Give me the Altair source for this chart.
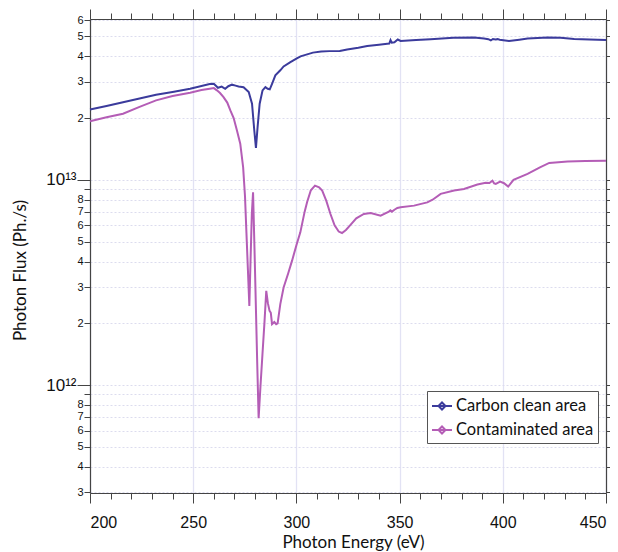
import altair as alt
import pandas as pd

# ---- data (flux in units of 1e13 Ph./s) ----
clean_energy = [200, 208, 216, 224, 232, 240, 248.5, 255, 258, 260, 262, 263.8, 265.5, 267, 268.8,
                270.5, 272, 274.4, 276.9, 278.5, 279.6, 280.4, 281.2, 282.2, 283.6, 285, 286.1,
                287.1, 288.2, 289.8, 292.2, 293.8, 297.1, 300, 302, 305.2, 308, 312, 316, 321,
                324.6, 330, 334.3, 340, 344, 345, 345.6, 346.2, 347.5, 349.1, 350.5, 358, 365,
                376, 386, 390.9, 393, 394.2, 395.2, 396.5, 397.5, 398.5, 403, 408, 412, 421.7,
                428, 434.6, 442, 450]
clean_flux = [2.20, 2.29, 2.39, 2.49, 2.60, 2.68, 2.78, 2.88, 2.93, 2.94, 2.81, 2.85, 2.78, 2.86, 2.91,
              2.88, 2.85, 2.83, 2.68, 2.35, 1.74, 1.43, 1.81, 2.35, 2.73, 2.83, 2.78,
              2.76, 2.94, 3.23, 3.42, 3.57, 3.75, 3.90, 4.00, 4.09, 4.17, 4.22, 4.24, 4.25,
              4.32, 4.40, 4.49, 4.56, 4.61, 4.62, 4.80, 4.66, 4.68, 4.83, 4.75, 4.80, 4.84,
              4.93, 4.94, 4.88, 4.85, 4.78, 4.86, 4.83, 4.85, 4.82, 4.75, 4.82, 4.88, 4.94,
              4.92, 4.86, 4.83, 4.80]

cont_energy = [200, 208, 216, 224, 232, 240, 248.5, 254, 258, 260, 261.5, 263, 264.7, 266.5, 268,
               269.6, 271.2, 272.8, 274.2, 275.1, 275.8, 276.5, 277.2, 277.8, 278.4, 279,
               279.7, 280.35, 281.0, 281.7, 282.6, 283.55, 284.5, 285.4, 286.2, 287, 287.6,
               288.2, 289.3, 290.2, 290.9, 292.2, 293.8, 296, 297.9, 300, 301.9, 304, 305.2,
               307, 309, 311, 312.5, 314.5, 316.5, 318.5, 320.5, 322.1, 324, 326, 329, 332.7,
               336, 340.8, 344.8, 345.5, 346.3, 347.5, 348.9, 350.5, 357, 363.4, 366, 369.9,
               376.4, 381.2, 387.7, 391.7, 393.5, 395.0, 395.8, 396.6, 398.7, 400.6, 402.6,
               405.2, 412, 418, 422.5, 431.4, 440, 450]
cont_flux = [1.93, 2.02, 2.10, 2.27, 2.44, 2.56, 2.66, 2.74, 2.78, 2.80, 2.73, 2.65, 2.53, 2.38, 2.18,
             2.00, 1.74, 1.50, 1.15, 0.83, 0.55, 0.366, 0.243, 0.41, 0.68, 0.87,
             0.46, 0.245, 0.13, 0.069, 0.099, 0.141, 0.20, 0.288, 0.25, 0.230, 0.225,
             0.198, 0.203, 0.198, 0.20, 0.248, 0.299, 0.35, 0.404, 0.48, 0.555, 0.70, 0.78,
             0.89, 0.938, 0.92, 0.887, 0.79, 0.682, 0.60, 0.56, 0.551, 0.57, 0.60, 0.65, 0.682,
             0.69, 0.669, 0.70, 0.71, 0.70, 0.715, 0.730, 0.735, 0.749, 0.777, 0.80, 0.855,
             0.887, 0.903, 0.949, 0.967, 0.965, 0.99, 0.962, 0.956, 0.98, 0.963, 0.928,
             1.0, 1.07, 1.15, 1.21, 1.23, 1.235, 1.24]

series_names = ["Carbon clean area", "Contaminated area"]
series_colors = ["#3b3b9c", "#b45db6"]

x_ticks = list(range(200, 451, 10))
y_ticks = ([m * 10**11 for m in range(3, 10)] + [m * 10**12 for m in range(1, 10)]
           + [m * 10**13 for m in range(1, 7)])

rows = []
for e, f in zip(clean_energy, clean_flux):
    rows.append({"energy": e, "flux": f * 1e13, "series": series_names[0]})
for e, f in zip(cont_energy, cont_flux):
    rows.append({"energy": e, "flux": f * 1e13, "series": series_names[1]})
df = pd.DataFrame(rows)

major_x = "datum.value % 50 == 0"
pow10 = "datum.value == 1e12 || datum.value == 1e13"
mant = "round(datum.value / pow(10, floor(log(datum.value) / LN10 + 1e-9)))"
y_label_expr = (f"datum.value == 1e13 ? '10\u00b9\u00b3' : datum.value == 1e12 ? '10\u00b9\u00b2' : "
                f"({mant} == 9 ? '' : '' + {mant})")

axis_col = "#444444"
x_scale = alt.Scale(domain=[200, 450], nice=False, zero=False)
y_scale = alt.Scale(type="log", domain=[2.98e11, 6.08e13], nice=False)

x_bottom = alt.Axis(
    orient="bottom", values=x_ticks, format="d",
    labelExpr=f"{major_x} ? datum.label : ''",
    tickSize={"condition": {"test": major_x, "value": 10}, "value": 6},
    labelFont="Liberation Sans", labelFontSize=16, labelColor="#111", labelPadding=11,
    grid=True, gridColor="#e2e2f4", gridWidth=1.3,
    gridOpacity={"condition": {"test": major_x, "value": 1}, "value": 0},
    domainColor=axis_col, tickColor=axis_col, domainWidth=1.2,
    title="Photon Energy (eV)", titleFont="Lato", titleFontSize=17, titleFontWeight="normal",
    titleColor="#111", titleX=263, titleY=49, titleBaseline="middle",
)
y_left = alt.Axis(
    orient="left", values=y_ticks, labelExpr=y_label_expr,
    tickSize={"condition": {"test": pow10, "value": 13}, "value": 6},
    labelFont="Liberation Sans",
    labelFontSize={"condition": {"test": pow10, "value": 17}, "value": 11},
    labelColor="#111", labelPadding=1,
    grid=True, gridColor="#dcdcee", gridDash=[2, 2], gridWidth=1,
    domainColor=axis_col, tickColor=axis_col, domainWidth=1.2,
    title="Photon Flux (Ph./s)", titleFont="Lato", titleFontSize=17, titleFontWeight="normal",
    titleColor="#111", titleX=-70, titleY=251, titleBaseline="middle", titleAngle=270,
)
x_top = alt.Axis(
    orient="top", values=x_ticks, labels=False, grid=False, title=None,
    tickSize={"condition": {"test": major_x, "value": 10}, "value": 6},
    domainColor=axis_col, tickColor=axis_col, domainWidth=1.2,
)
y_right = alt.Axis(
    orient="right", values=y_ticks, labels=False, grid=False, title=None,
    tickSize={"condition": {"test": pow10, "value": 10}, "value": 5},
    domainColor=axis_col, tickColor=axis_col, domainWidth=1.2,
)

legend = alt.Legend(
    orient="none", legendX=337, legendY=372, title=None,
    symbolType="M-1,0L1,0M-0.35,0L0,-0.35L0.35,0L0,0.35Z", symbolSize=400, symbolStrokeWidth=2,
    labelFont="Lato", labelFontSize=16.5, labelColor="#111", labelOffset=3,
    strokeColor="#555555", fillColor="white", padding=4, rowPadding=4,
)

main = alt.Chart(df).mark_line(strokeWidth=2).encode(
    x=alt.X("energy:Q", scale=x_scale, axis=x_bottom),
    y=alt.Y("flux:Q", scale=y_scale, axis=y_left),
    color=alt.Color("series:N", scale=alt.Scale(domain=series_names, range=series_colors),
                    legend=legend),
)

mirror = alt.Chart(df).mark_line(opacity=0).encode(
    x=alt.X("energy:Q", scale=x_scale, axis=x_top),
    y=alt.Y("flux:Q", scale=y_scale, axis=y_right),
    detail="series:N",
)

chart = alt.layer(main, mirror).resolve_axis(x="independent", y="independent").properties(
    width=516, height=474,
    padding={"left": 82, "top": 11, "right": 4, "bottom": 59},
    autosize=alt.AutoSizeParams(type="none"),
).configure_view(stroke=None)

chart.save("out.html", embed_options={"renderer": "svg", "actions": False})
